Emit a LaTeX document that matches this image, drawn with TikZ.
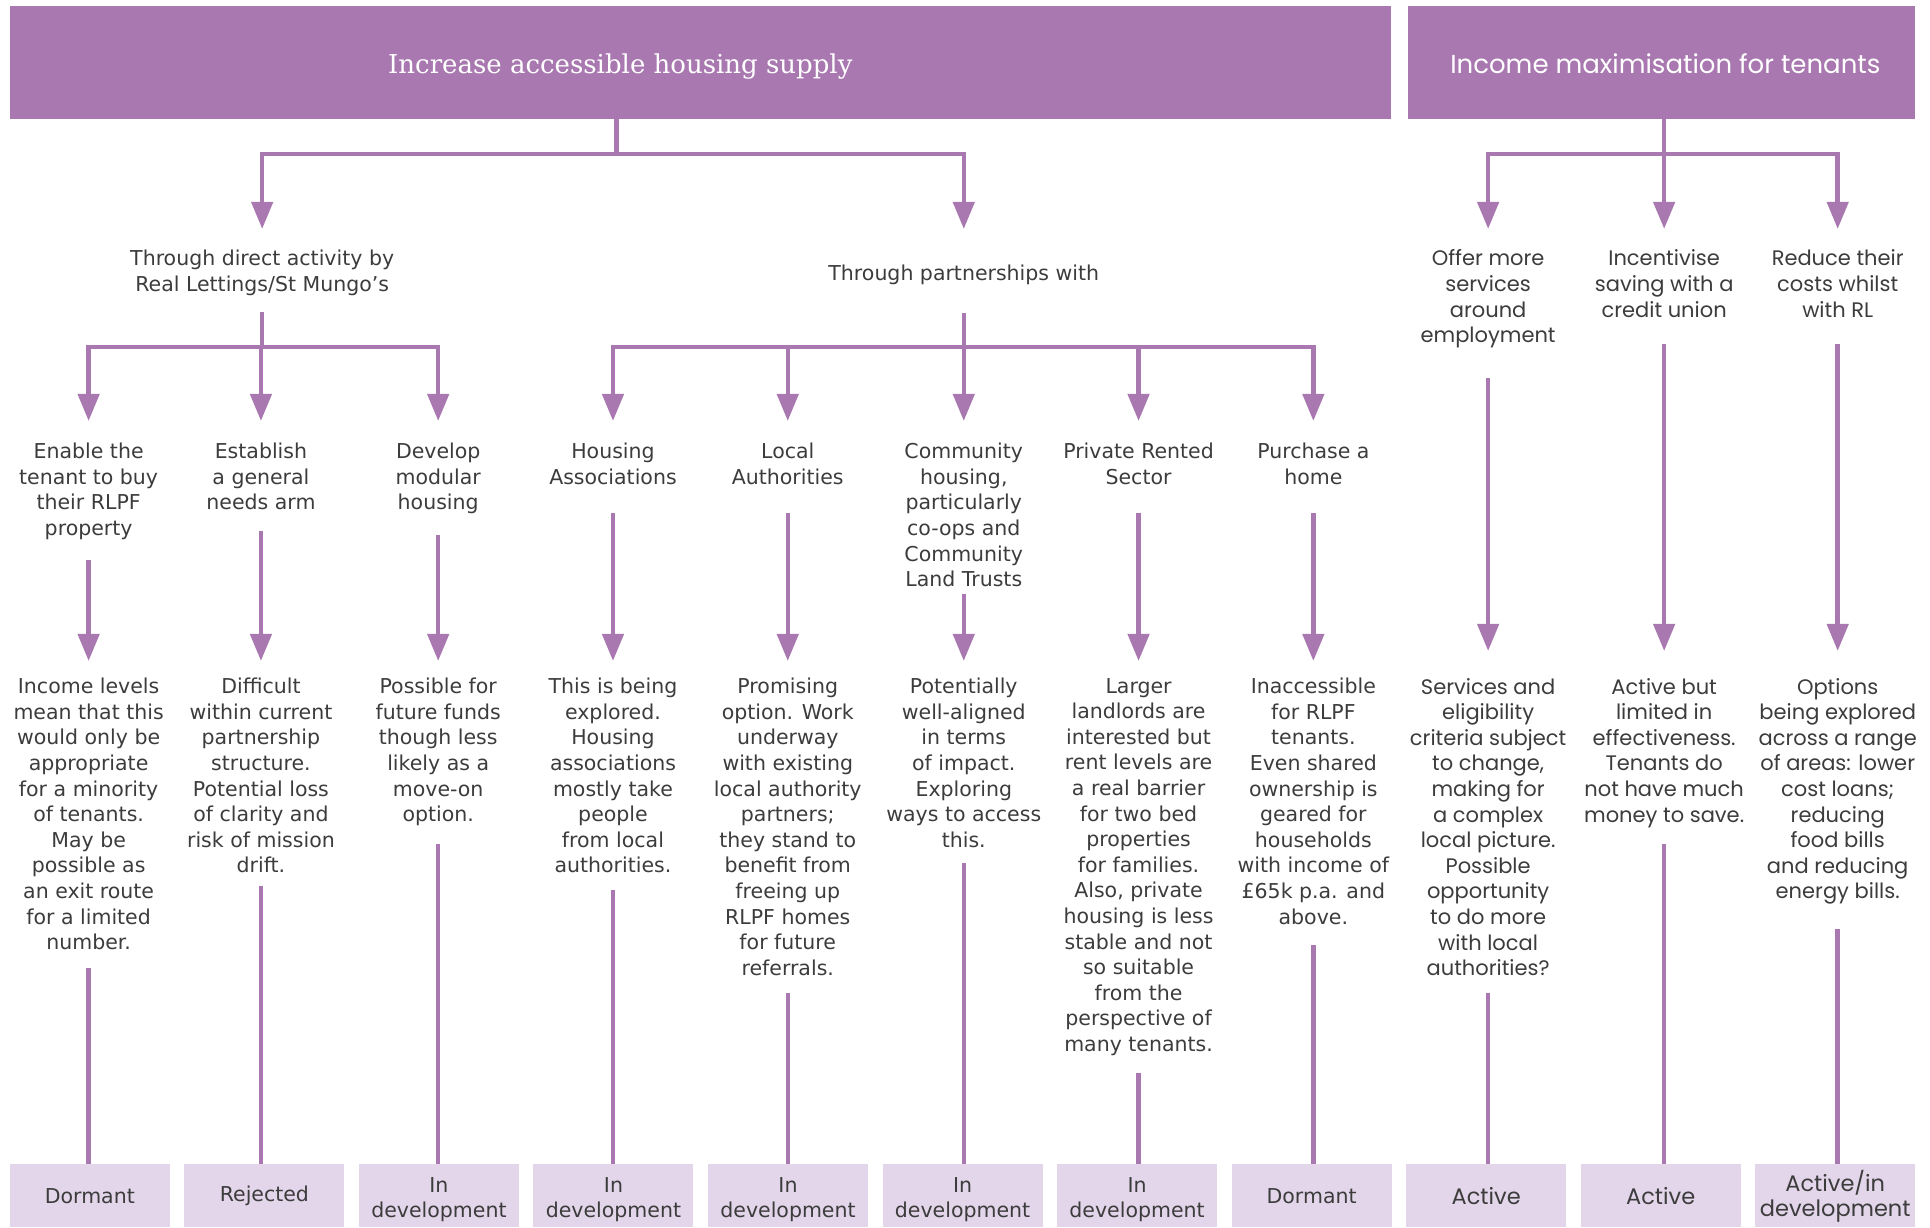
\documentclass[tikz,border=0pt]{standalone}
\usepackage{fontspec}
\usetikzlibrary{arrows.meta}
\newfontfamily\lfont{DejaVu Sans}
\newfontfamily\popfont{Poppins}
\newfontfamily\serfont{DejaVu Serif}
\definecolor{pur}{HTML}{A978B0}
\definecolor{lav}{HTML}{E3D6EA}
\definecolor{txt}{HTML}{3C3C3C}
\newcommand{\statstrut}{\rule{0pt}{22.6pt}}
\begin{document}
\begin{tikzpicture}[x=1.2309pt,y=-1.2309pt,
  conn/.style={draw=pur,line width=4.5pt},
  arr/.style={conn,-{Triangle[length=27pt,width=21pt]}},
  lbl/.style={text=txt,align=center,inner sep=0pt,anchor=north,font=\lfont\fontsize{20.5}{25.6}\selectfont},
  rlbl/.style={lbl,font=\popfont\fontsize{21}{25.6}\selectfont},
  titlebox/.style={fill=pur,inner sep=0pt,minimum height=113pt},
  ttl/.style={text=white,inner sep=0pt},
  statbox/.style={fill=lav,minimum width=160pt,minimum height=62.8pt,inner sep=0pt,align=center,text=txt,font=\lfont\fontsize{20.5}{25.6}\selectfont},
  rstat/.style={statbox,font=\popfont\fontsize{22.5}{25.6}\selectfont}
]
\useasboundingbox (0,0) rectangle (1568,997);

% title boxes
\node[titlebox,minimum width=1381pt] (T1) at (569,51) {};
\node[ttl,font=\serfont\fontsize{26}{32}\selectfont] (T1t) at (504,54) {Increase accessible housing supply};
\node[titlebox,minimum width=507pt] (T2) at (1350,51) {};
\node[ttl,font=\popfont\fontsize{26}{32}\selectfont] (T2t) at (1353,52) {Income maximisation for tenants};

% level 2
\node[lbl] (D1) at (213,202.8) {Through direct activity by\\Real Lettings/St Mungo’s};
\node[lbl] (D2) at (783,214.8) {Through partnerships with};
\node[rlbl] (R1) at (1209,202.8) {Offer more\\services\\around\\employment};
\node[rlbl] (R2) at (1352,202.8) {Incentivise\\saving with a\\credit union};
\node[rlbl] (R3) at (1493,202.8) {Reduce their\\costs whilst\\with RL};

% level 3
\node[lbl] (A0) at (72,359.8) {Enable the\\tenant to buy\\their RLPF\\property};
\node[lbl] (A1) at (212,359.8) {Establish\\a general\\needs arm};
\node[lbl] (A2) at (356,359.8) {Develop\\modular\\housing};
\node[lbl] (A3) at (498,359.8) {Housing\\Associations};
\node[lbl] (A4) at (640,359.8) {Local\\Authorities};
\node[lbl] (A5) at (783,359.8) {Community\\housing,\\particularly\\co-ops and\\Community\\Land Trusts};
\node[lbl] (A6) at (925,359.8) {Private Rented\\Sector};
\node[lbl] (A7) at (1067,359.8) {Purchase a\\home};

% outcomes
\node[lbl] (B0) at (72,550.8) {Income levels\\mean that this\\would only be\\appropriate\\for a minority\\of tenants.\\May be\\possible as\\an exit route\\for a limited\\number.};
\node[lbl] (B1) at (212,550.8) {Difficult\\within current\\partnership\\structure.\\Potential loss\\of clarity and\\risk of mission\\drift.};
\node[lbl] (B2) at (356,550.8) {Possible for\\future funds\\though less\\likely as a\\move-on\\option.};
\node[lbl] (B3) at (498,550.8) {This is being\\explored.\\Housing\\associations\\mostly take\\people\\from local\\authorities.};
\node[lbl] (B4) at (640,550.8) {Promising\\option. Work\\underway\\with existing\\local authority\\partners;\\they stand to\\benefit from\\freeing up\\RLPF homes\\for future\\referrals.};
\node[lbl] (B5) at (783,550.8) {Potentially\\well-aligned\\in terms\\of impact.\\Exploring\\ways to access\\this.};
\node[lbl] (B6) at (925,550.8) {Larger\\landlords are\\interested but\\rent levels are\\a real barrier\\for two bed\\properties\\for families.\\Also, private\\housing is less\\stable and not\\so suitable\\from the\\perspective of\\many tenants.};
\node[lbl] (B7) at (1067,550.8) {Inaccessible\\for RLPF\\tenants.\\Even shared\\ownership is\\geared for\\households\\with income of\\£65k p.a. and\\above.};
\node[rlbl] (B8) at (1209,550.8) {Services and\\eligibility\\criteria subject\\to change,\\making for\\a complex\\local picture.\\Possible\\opportunity\\to do more\\with local\\authorities?};
\node[rlbl] (B9) at (1352,550.8) {Active but\\limited in\\effectiveness.\\Tenants do\\not have much\\money to save.};
\node[rlbl] (B10) at (1493,550.8) {Options\\being explored\\across a range\\of areas: lower\\cost loans;\\reducing\\food bills\\and reducing\\energy bills.};

% status boxes
\node[statbox] (S0) at (73,971.5) {Dormant};
\node[statbox] (S1) at (214.8,971.5) {Rejected};
\node[statbox] (S2) at (356.6,971.5) {\statstrut In\\development};
\node[statbox] (S3) at (498.4,971.5) {\statstrut In\\development};
\node[statbox] (S4) at (640.2,971.5) {\statstrut In\\development};
\node[statbox] (S5) at (782,971.5) {\statstrut In\\development};
\node[statbox] (S6) at (923.8,971.5) {\statstrut In\\development};
\node[statbox] (S7) at (1065.6,971.5) {Dormant};
\node[rstat] (S8) at (1207.4,971.5) {Active};
\node[rstat] (S9) at (1349.2,971.5) {Active};
\node[rstat] (S10) at (1491,971.5) {\statstrut Active/in\\development};

% junctions
\coordinate (J1) at (501,125);
\coordinate (J2) at (1352,125);
\coordinate (J3) at (212,282);
\coordinate (J4) at (783,282);

% top connectors
\draw[conn] (T1.south -| J1) -- (J1);
\draw[arr,shorten >=20.7pt] (J1) -| (D1.north);
\draw[arr,shorten >=35.4pt] (J1) -| (D2.north);
\draw[conn] (T2.south -| J2) -- (J2);
\draw[arr,shorten >=20.7pt] (J2) -| (R1.north);
\draw[arr,shorten >=20.7pt] (J2) -- (R2.north);
\draw[arr,shorten >=20.7pt] (J2) -| (R3.north);

% second level connectors
\draw[conn,shorten <=17pt] (D1.south) -- (D1.south |- J3);
\draw[arr,shorten >=21.9pt] (J3) -| (A0.north);
\draw[arr,shorten >=21.9pt] (J3) -- (A1.north);
\draw[arr,shorten >=21.9pt] (J3) -| (A2.north);
\draw[conn,shorten <=28pt] (D2.south) -- (J4);
\draw[arr,shorten >=21.9pt] (J4) -| (A3.north);
\draw[arr,shorten >=21.9pt] (J4) -| (A4.north);
\draw[arr,shorten >=21.9pt] (J4) -- (A5.north);
\draw[arr,shorten >=21.9pt] (J4) -| (A6.north);
\draw[arr,shorten >=21.9pt] (J4) -| (A7.north);

% options to outcomes
\draw[arr,shorten <=19.7pt,shorten >=17pt] (A0.south) -- (B0.north);
\draw[arr,shorten <=20.7pt,shorten >=17pt] (A1.south) -- (B1.north);
\draw[arr,shorten <=20.7pt,shorten >=17pt] (A2.south) -- (B2.north);
\draw[arr,shorten <=27.8pt,shorten >=17pt] (A3.south) -- (B3.north);
\draw[arr,shorten <=27.8pt,shorten >=17pt] (A4.south) -- (B4.north);
\draw[arr,shorten <=6.6pt,shorten >=17pt] (A5.south) -- (B5.north);
\draw[arr,shorten <=27.8pt,shorten >=17pt] (A6.south) -- (B6.north);
\draw[arr,shorten <=27.8pt,shorten >=17pt] (A7.south) -- (B7.north);
\draw[arr,shorten <=29.5pt,shorten >=27pt] (R1.south) -- (B8.north);
\draw[arr,shorten <=26.8pt,shorten >=27pt] (R2.south) -- (B9.north);
\draw[arr,shorten <=26.8pt,shorten >=27pt] (R3.south) -- (B10.north);

% outcomes to status
\draw[conn,shorten <=17.7pt] (B0.south) -- (B0.south |- S0.north);
\draw[conn,shorten <=12.1pt] (B1.south) -- (B1.south |- S1.north);
\draw[conn,shorten <=17.7pt] (B2.south) -- (B2.south |- S2.north);
\draw[conn,shorten <=17pt] (B3.south) -- (B3.south |- S3.north);
\draw[conn,shorten <=16.7pt] (B4.south) -- (B4.south |- S4.north);
\draw[conn,shorten <=15.5pt] (B5.south) -- (B5.south |- S5.north);
\draw[conn,shorten <=17.5pt] (B6.south) -- (B6.south |- S6.north);
\draw[conn,shorten <=19.9pt] (B7.south) -- (B7.south |- S7.north);
\draw[conn,shorten <=16.7pt] (B8.south) -- (B8.south |- S8.north);
\draw[conn,shorten <=16.5pt] (B9.south) -- (B9.south |- S9.north);
\draw[conn,shorten <=24.6pt] (B10.south) -- (B10.south |- S10.north);
\end{tikzpicture}
\end{document}
